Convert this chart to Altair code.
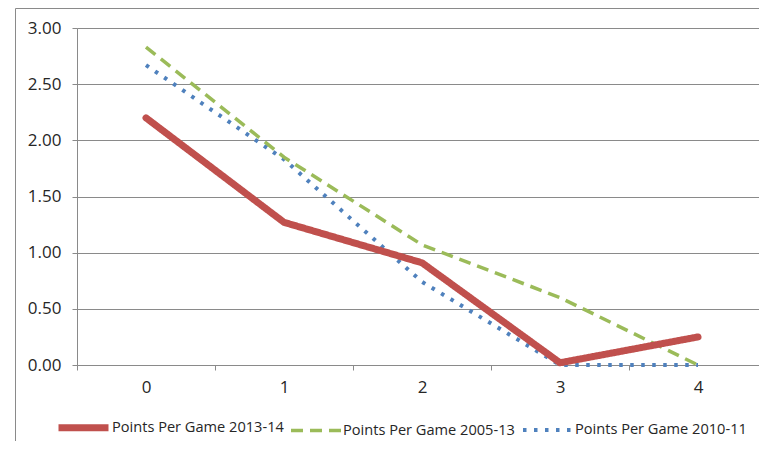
import altair as alt
import pandas as pd

games = ["0", "1", "2", "3", "4"]
series_names = ["Points Per Game 2013-14", "Points Per Game 2005-13", "Points Per Game 2010-11"]
ppg_2013_14 = [2.20, 1.27, 0.91, 0.02, 0.25]
ppg_2005_13 = [2.83, 1.85, 1.07, 0.60, 0.00]
ppg_2010_11 = [2.67, 1.83, 0.74, 0.00, 0.00]
y_ticks = [0, 0.5, 1.0, 1.5, 2.0, 2.5, 3.0]
colors = ["#C0504D", "#9BBB59", "#4F81BD"]
dashes = [[1, 0], [12, 7], [3.5, 7.5]]
widths = [7, 3.5, 4]
caps = ["round", "butt", "butt"]

rows = []
for name, vals in zip(series_names, [ppg_2013_14, ppg_2005_13, ppg_2010_11]):
    for g, v in zip(games, vals):
        rows.append({"game": g, "series": name, "ppg": v})
df = pd.DataFrame(rows)

FONT = "Open Sans"
GRID = "#8a8a8a"
TEXT = "#262626"

legend = alt.Legend(title=None, orient="none", direction="horizontal",
                    legendX=-22, legendY=371, symbolType="stroke",
                    symbolSize=2500, labelFont=FONT, labelFontSize=14.6,
                    labelColor=TEXT, labelOffset=0, columnPadding=0,
                    labelLimit=400)

base = alt.Chart(df).encode(
    x=alt.X("game:O", sort=games, bandPosition=0.5,
            scale=alt.Scale(type="band", paddingInner=0, paddingOuter=0, range=[0, 690]),
            axis=alt.Axis(title=None, labelAngle=0, tickBand="extent", tickSize=5,
                          domainColor=GRID, tickColor=GRID, labelColor=TEXT,
                          labelFont=FONT, labelFontSize=17, labelPadding=9, grid=False)),
    y=alt.Y("ppg:Q", scale=alt.Scale(domain=[0, 3], nice=False),
            axis=alt.Axis(title=None, values=y_ticks, format=".2f", tickSize=5,
                          domainColor=GRID, tickColor=GRID, gridColor=GRID,
                          labelColor=TEXT, labelFont=FONT, labelFontSize=17,
                          labelPadding=11)),
    color=alt.Color("series:N", sort=series_names,
                    scale=alt.Scale(domain=series_names, range=colors), legend=legend),
    strokeDash=alt.StrokeDash("series:N", sort=series_names,
                              scale=alt.Scale(domain=series_names, range=dashes), legend=legend),
    strokeWidth=alt.StrokeWidth("series:N", sort=series_names,
                                scale=alt.Scale(type="ordinal", domain=series_names, range=widths),
                                legend=legend),
)

series_layers = []
for name, cap in zip(series_names[::-1], caps[::-1]):
    series_layers.append(
        base.mark_line(strokeCap=cap, strokeJoin="round").transform_filter(
            alt.datum.series == name)
    )

frame_df = pd.DataFrame({"k": [0]})
frame = alt.Chart(frame_df).mark_rect(fillOpacity=0, stroke=GRID, strokeWidth=1, clip=False).encode(
    x=alt.value(-61.5), x2=alt.value(720), y=alt.value(-19.5), y2=alt.value(460)
)

chart = alt.layer(frame, *series_layers).properties(
    width=682, height=337,
    padding={"left": 69, "top": 20, "right": 0, "bottom": 76},
    autosize=alt.AutoSizeParams(type="none"),
).configure_view(stroke=None).configure(background="white")

chart.save("out.html", embed_options={"renderer": "svg", "actions": False})
